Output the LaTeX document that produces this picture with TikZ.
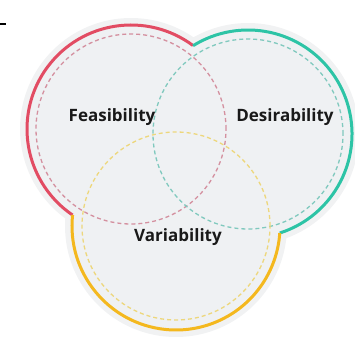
\documentclass[tikz,border=0pt]{standalone}
\usepackage{fontspec}
\setmainfont{Open Sans}
\definecolor{fred}{HTML}{E24C63}
\definecolor{dteal}{HTML}{2DC4A6}
\definecolor{vyel}{HTML}{F4B81E}
\definecolor{fredl}{HTML}{D4909F}
\definecolor{dteall}{HTML}{80C9BE}
\definecolor{vyell}{HTML}{EDD77C}
\definecolor{halo}{HTML}{F1F2F3}
\definecolor{inner}{HTML}{EFF1F3}
\tikzset{
  outerarc/.style={line width=3pt},
  dashring/.style={line width=1.3pt, dash pattern=on 4pt off 3pt},
  label/.style={font=\bfseries\fontsize{17}{20}\selectfont, text=black!90}
}
\begin{document}
\begin{tikzpicture}[x=1pt,y=1pt]
\useasboundingbox (0,0) rectangle (355,340);
\coordinate (cf) at (131,211);
\coordinate (cd) at (248,206);
\coordinate (cv) at (176,114);
% background blob
\fill[halo] (cf) circle (111) (cd) circle (111) (cv) circle (111);
\fill[inner] (cf) circle (104) (cd) circle (104) (cv) circle (104);
% dashed rings
\draw[dashring, fredl] (cf) circle (95);
\draw[dashring, dteall] (cd) circle (95);
\draw[dashring, vyell] (cv) circle (94);
% outer coloured arcs
\draw[outerarc, fred] (cf) ++(53.4:104) arc[start angle=53.4, end angle=235.8, radius=104];
\draw[outerarc, dteal] (cd) ++(-72.2:104) arc[start angle=-72.2, end angle=121.9, radius=104];
\draw[outerarc, vyel] (cv) ++(173.9:104) arc[start angle=173.9, end angle=356.1, radius=104];
% labels
\node[label] (feas) at (112,223) {Feasibility};
\node[label] (desi) at (285,223) {Desirability};
\node[label] (vari) at (178,103) {Variability};
% small tick at top left
\coordinate (t1) at (0,316);
\coordinate (t2) at (6,316);
\draw[line width=1.2pt] (t1) -- (t2);
\end{tikzpicture}
\end{document}
